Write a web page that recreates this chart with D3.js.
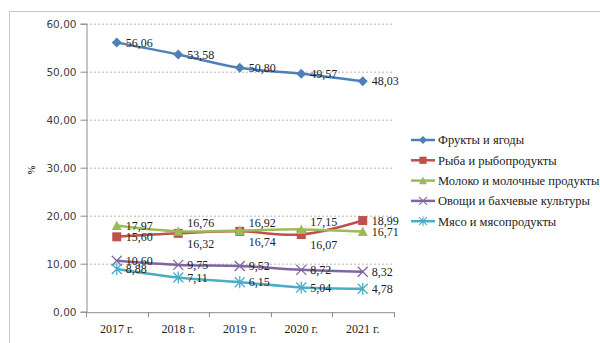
<!DOCTYPE html>
<html>
<head>
<meta charset="utf-8">
<script src="https://cdn.jsdelivr.net/npm/d3@7"></script>
<style>
  body { margin: 0; background: #fff; }
  svg { display: block; }
</style>
</head>
<body>
<div id="chart-area"></div>
<script>
// данные
var years = ["2017 г.", "2018 г.", "2019 г.", "2020 г.", "2021 г."];
var yTicks = [0, 10, 20, 30, 40, 50, 60];

var fruits = [56.06, 53.58, 50.80, 49.57, 48.03];
var fish = [15.60, 16.32, 16.74, 16.07, 18.99];
var milk = [17.97, 16.76, 16.92, 17.15, 16.71];
var vegetables = [10.60, 9.75, 9.52, 8.72, 8.32];
var meat = [8.88, 7.11, 6.15, 5.04, 4.78];

var seriesNames = ["Фрукты и ягоды", "Рыба и рыбопродукты", "Молоко и молочные продукты",
	"Овощи и бахчевые культуры", "Мясо и мясопродукты"];

// где подписи: r = справа, a = сверху, b = снизу
var series = [
	{ name: seriesNames[0], values: fruits, color: "#4f7fb8", marker: "diamond", pos: ["r","r","r","r","r"] },
	{ name: seriesNames[1], values: fish, color: "#c0504d", marker: "square", pos: ["r","b","b","b","r"] },
	{ name: seriesNames[2], values: milk, color: "#9bbb59", marker: "triangle", pos: ["r","a","a","a","r"] },
	{ name: seriesNames[3], values: vegetables, color: "#8064a2", marker: "x", pos: ["r","r","r","r","r"] },
	{ name: seriesNames[4], values: meat, color: "#4bacc6", marker: "star", pos: ["r","r","r","r","r"] }
];

var W = 600, H = 343;
var margin = { top: 23.7, left: 86 };
var width = 307.5, height = 288;

var svg = d3.select("#chart-area")
	.append("svg")
		.attr("width", W)
		.attr("height", H);

// рамка диаграммы
svg.append("rect")
	.attr("x", 9.5).attr("y", 11.5)
	.attr("width", 600).attr("height", 340)
	.attr("fill", "none")
	.attr("stroke", "#c8c8c8");

var g = svg.append("g")
	.attr("transform", "translate(" + margin.left + "," + margin.top + ")");

var x = d3.scaleBand().domain(years).range([0, width]);
var y = d3.scaleLinear().domain([0, 60]).range([height, 0]);

var fmt = function(v) { return d3.format(".2f")(v).replace(".", ","); };

// сетка
g.selectAll(".grid")
	.data(yTicks.filter(function(d) { return d > 0; }))
	.enter().append("line")
		.attr("x1", 0).attr("x2", width)
		.attr("y1", function(d) { return Math.round(y(d)) + 0.5; })
		.attr("y2", function(d) { return Math.round(y(d)) + 0.5; })
		.attr("stroke", "#b8b8b8")
		.attr("stroke-dasharray", "2,2");

// оси
var yAxis = g.append("g")
	.attr("transform", "translate(0.5,0)")
	.call(d3.axisLeft(y).tickValues(yTicks).tickSize(6).tickPadding(4).tickFormat(fmt));
yAxis.select(".domain").attr("stroke", "#8c8c8c");
yAxis.selectAll(".tick line").attr("stroke", "#8c8c8c");
yAxis.selectAll(".tick text")
	.attr("font-family", "DejaVu Sans, Verdana, sans-serif")
	.attr("font-size", "10.5px")
	.attr("fill", "#404040");

var xAxis = g.append("g")
	.attr("transform", "translate(0," + (height + 0.5) + ")")
	.call(d3.axisBottom(x).tickSize(0).tickPadding(12));
xAxis.select(".domain").attr("stroke", "#8c8c8c");
xAxis.selectAll(".tick text")
	.attr("font-family", "Liberation Serif, Times New Roman, serif")
	.attr("font-size", "12px")
	.attr("fill", "#222");

// засечки между категориями
xAxis.selectAll(".sep")
	.data(d3.range(years.length + 1))
	.enter().append("line")
		.attr("x1", function(i) { return Math.round(i * x.bandwidth()) + 0.5; })
		.attr("x2", function(i) { return Math.round(i * x.bandwidth()) + 0.5; })
		.attr("y1", 0).attr("y2", 5)
		.attr("stroke", "#8c8c8c");

svg.append("text")
	.attr("transform", "translate(35,170) rotate(-90)")
	.attr("text-anchor", "middle")
	.attr("font-family", "Liberation Serif, serif")
	.attr("font-weight", "bold")
	.attr("font-size", "10px")
	.attr("fill", "#333")
	.text("%");

function cx(i) { return x(years[i]) + x.bandwidth() / 2; }

var line = d3.line()
	.x(function(d, i) { return cx(i); })
	.y(function(d) { return y(d); })
	.curve(d3.curveCatmullRom.alpha(0.5));

function drawMarker(sel, type, color) {
	if (type === "diamond") {
		sel.append("path").attr("d", "M0,-5L5,0L0,5L-5,0Z").attr("fill", color);
	} else if (type === "square") {
		sel.append("rect").attr("x", -4.5).attr("y", -4.5).attr("width", 9).attr("height", 9).attr("fill", color);
	} else if (type === "triangle") {
		sel.append("path").attr("d", "M0,-5L5,4.5L-5,4.5Z").attr("fill", color);
	} else if (type === "x") {
		sel.append("path").attr("d", "M-5,-5L5,5M-5,5L5,-5").attr("stroke", color).attr("stroke-width", 1.3);
	} else if (type === "star") {
		sel.append("path").attr("d", "M-5,-5L5,5M-5,5L5,-5M0,-6L0,6").attr("stroke", color).attr("stroke-width", 1.3);
	}
}

series.forEach(function(s) {
	g.append("path")
		.attr("d", line(s.values))
		.attr("fill", "none")
		.attr("stroke", s.color)
		.attr("stroke-width", 2.5);

	s.values.forEach(function(v, i) {
		var m = g.append("g").attr("transform", "translate(" + cx(i) + "," + y(v) + ")");
		drawMarker(m, s.marker, s.color);
	});
});

// подписи значений
series.forEach(function(s) {
	s.values.forEach(function(v, i) {
		var dy = s.pos[i] === "a" ? -8 : (s.pos[i] === "b" ? 10 : 0);
		g.append("text")
			.attr("x", cx(i) + 9)
			.attr("y", y(v) + dy)
			.attr("dy", "0.35em")
			.attr("font-family", "Liberation Serif, Times New Roman, serif")
			.attr("font-size", "12px")
			.attr("fill", "#222")
			.text(fmt(v));
	});
});

// легенда
var legend = svg.append("g").attr("transform", "translate(411,140)");
var items = legend.selectAll(".item")
	.data(series)
	.enter().append("g")
		.attr("transform", function(d, i) { return "translate(0," + (i * 20.3) + ")"; });
items.append("line")
	.attr("x1", 0).attr("x2", 24)
	.attr("stroke", function(d) { return d.color; })
	.attr("stroke-width", 2.5);
items.each(function(d) {
	var m = d3.select(this).append("g").attr("transform", "translate(12,0) scale(0.8)");
	drawMarker(m, d.marker, d.color);
});
items.append("text")
	.attr("x", 27)
	.attr("dy", "0.35em")
	.attr("font-family", "Liberation Serif, Times New Roman, serif")
	.attr("font-size", "12.5px")
	.attr("fill", "#222")
	.text(function(d) { return d.name; });
</script>
</body>
</html>
